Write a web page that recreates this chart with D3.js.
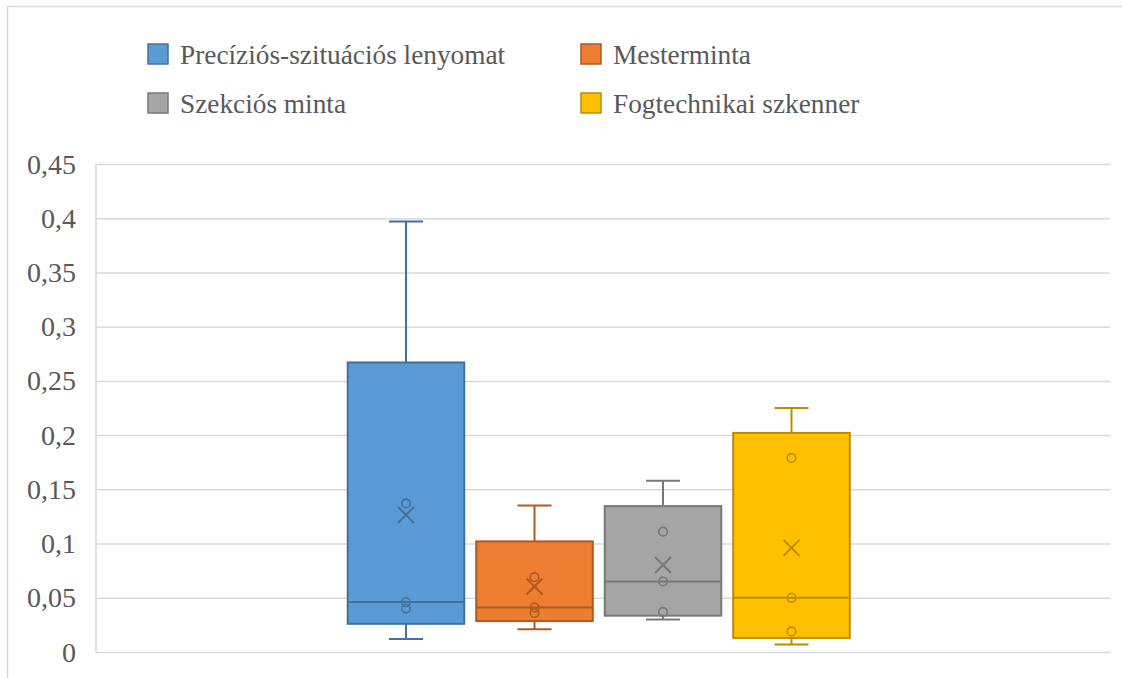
<!DOCTYPE html>
<html>
<head>
<meta charset="utf-8">
<script src="https://cdn.jsdelivr.net/npm/d3@7/dist/d3.min.js"></script>
<style>
  svg text { font-family: "Liberation Serif", "Times New Roman", Tinos, serif !important; }
</style>
</head>
<body style="margin:0">
<svg id="chart" width="1122" height="678"></svg>
<script>
// Measurement series (one box per series)
const seriesNames = [
  "Precíziós-szituációs lenyomat",
  "Mesterminta",
  "Szekciós minta",
  "Fogtechnikai szkenner"
];
const precizios = [0.012, 0.040, 0.046, 0.137, 0.397];
const mesterminta = [0.021, 0.036, 0.041, 0.069, 0.135];
const szekcios = [0.030, 0.037, 0.065, 0.111, 0.158];
const fogtechnikai = [0.007, 0.019, 0.050, 0.179, 0.225];
const yTicks = [0, 0.05, 0.1, 0.15, 0.2, 0.25, 0.3, 0.35, 0.4, 0.45];
const fills = ["#5B9BD5", "#ED7D31", "#A5A5A5", "#FFC000"];
const strokes = ["#41719C", "#AE5A21", "#787878", "#BC8C00"];

const seriesValues = [precizios, mesterminta, szekcios, fogtechnikai];
const FONT = '"Liberation Serif", "Times New Roman", Tinos, serif';

// Exclusive quartile, as used by spreadsheet box & whisker charts
function quartileExc(sorted, p) {
  const n = sorted.length;
  const pos = p * (n + 1);
  const lo = Math.floor(pos);
  const frac = pos - lo;
  if (lo < 1) return sorted[0];
  if (lo >= n) return sorted[n - 1];
  return sorted[lo - 1] + frac * (sorted[lo] - sorted[lo - 1]);
}

const stats = seriesValues.map((vals, i) => {
  const s = vals.slice().sort(d3.ascending);
  const q1 = quartileExc(s, 0.25);
  const med = quartileExc(s, 0.5);
  const q3 = quartileExc(s, 0.75);
  const iqr = q3 - q1;
  const inside = s.filter(v => v >= q1 - 1.5 * iqr && v <= q3 + 1.5 * iqr);
  const lo = d3.min(inside), hi = d3.max(inside);
  return {
    name: seriesNames[i], fill: fills[i], stroke: strokes[i],
    q1, med, q3, lo, hi,
    mean: d3.mean(s),
    inner: s.filter(v => v > lo && v < hi)
  };
});

const svg = d3.select("#chart");
const W = 1122, H = 678;
const plot = { left: 96, right: 1110, top: 164, bottom: 652 };

// chart area outline
svg.append("rect")
  .attr("x", 7.5).attr("y", 6.5)
  .attr("width", W + 20).attr("height", H + 20)
  .attr("fill", "#fff").attr("stroke", "#d9d9d9").attr("stroke-width", 1.5);

const y = d3.scaleLinear().domain([0, 0.45]).range([plot.bottom, plot.top]);
const x = d3.scaleBand()
  .domain(seriesNames)
  .range([341.75, 855.75])
  .paddingInner(0.093)
  .paddingOuter(0.0465);

const fmt = v => String(+v.toFixed(2)).replace(".", ",");

// gridlines
const yAxis = d3.axisLeft(y)
  .tickValues(yTicks)
  .tickSize(-(plot.right - plot.left))
  .tickFormat("");

const gAxis = svg.append("g")
  .attr("transform", `translate(${plot.left},0)`)
  .call(yAxis);
gAxis.select(".domain")
  .attr("d", `M0,${plot.top}V${plot.bottom}`)
  .attr("stroke", "#d9d9d9").attr("stroke-width", 1.5);
gAxis.selectAll(".tick line")
  .attr("stroke", "#d9d9d9").attr("stroke-width", 1.5);
gAxis.selectAll(".tick text").remove();

// tick labels
yTicks.forEach(v => {
  svg.append("text")
    .attr("x", plot.left - 20)
    .attr("y", y(v) + 9.5)
    .attr("text-anchor", "end")
    .attr("fill", "#595959")
    .style("font-family", FONT, "important")
    .style("font-size", "28px")
    .text(fmt(v));
});

// boxes
const capW = 34;
stats.forEach(d => {
  const cx = x(d.name) + x.bandwidth() / 2;
  const bw = x.bandwidth();
  const grp = svg.append("g")
    .attr("stroke", d.stroke).attr("stroke-width", 2).attr("fill", "none");
  // whiskers
  grp.append("line").attr("x1", cx).attr("x2", cx).attr("y1", y(d.hi)).attr("y2", y(d.q3));
  grp.append("line").attr("x1", cx).attr("x2", cx).attr("y1", y(d.q1)).attr("y2", y(d.lo));
  grp.append("line").attr("x1", cx - capW / 2).attr("x2", cx + capW / 2).attr("y1", y(d.hi)).attr("y2", y(d.hi));
  grp.append("line").attr("x1", cx - capW / 2).attr("x2", cx + capW / 2).attr("y1", y(d.lo)).attr("y2", y(d.lo));
  // box
  grp.append("rect")
    .attr("x", x(d.name)).attr("width", bw)
    .attr("y", y(d.q3)).attr("height", y(d.q1) - y(d.q3))
    .attr("fill", d.fill);
  // median
  grp.append("line").attr("x1", x(d.name)).attr("x2", x(d.name) + bw)
    .attr("y1", y(d.med)).attr("y2", y(d.med));
  // inner points
  grp.selectAll("circle.pt").data(d.inner).enter().append("circle")
    .attr("class", "pt")
    .attr("cx", cx).attr("cy", v => y(v)).attr("r", 4.3)
    .attr("stroke-width", 1.6);
  // mean marker
  const m = 8, my = y(d.mean);
  grp.append("path")
    .attr("d", `M${cx - m},${my - m}L${cx + m},${my + m}M${cx - m},${my + m}L${cx + m},${my - m}`)
    .attr("stroke-width", 2);
});

// legend
const legendPos = [[148, 44], [581, 44], [148, 93], [581, 93]];
stats.forEach((d, i) => {
  const [lx, ly] = legendPos[i];
  svg.append("rect")
    .attr("x", lx).attr("y", ly).attr("width", 20).attr("height", 20)
    .attr("fill", d.fill).attr("stroke", d.stroke).attr("stroke-width", 1.5);
  svg.append("text")
    .attr("x", lx + 32).attr("y", ly + 20)
    .attr("fill", "#595959")
    .style("font-family", FONT, "important")
    .style("font-size", "27.3px")
    .text(d.name);
});
</script>
</body>
</html>
